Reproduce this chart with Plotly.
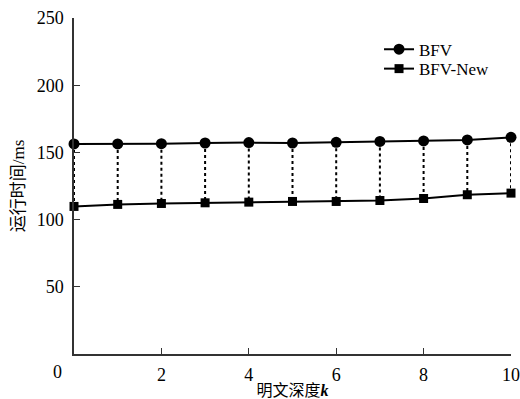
import plotly.graph_objects as go

depth = [0, 1, 2, 3, 4, 5, 6, 7, 8, 9, 10]
bfv = [156.3, 156.3, 156.5, 157.0, 157.3, 157.0, 157.5, 158.2, 158.5, 159.3, 161.2]
bfv_new = [109.8, 111.3, 112.0, 112.5, 113.0, 113.5, 113.5, 114.2, 115.7, 118.5, 119.7]
x_ticks = [0, 2, 4, 6, 8, 10]
y_ticks = [50, 100, 150, 200, 250]

FONT = "'Liberation Serif', 'Noto Sans CJK SC', serif"

# dotted connectors
cx, cy = [], []
for x, a, b in zip(depth, bfv, bfv_new):
    cx += [x, x, None]
    cy += [a, b, None]

fig = go.Figure()
fig.add_trace(go.Scatter(x=cx, y=cy, mode="lines", showlegend=False,
                         line=dict(color="black", width=2, dash="dot"),
                         hoverinfo="skip", cliponaxis=False))
fig.add_trace(go.Scatter(x=depth, y=bfv, mode="lines+markers", name="BFV",
                         line=dict(color="black", width=2),
                         marker=dict(symbol="circle", size=11, color="black"),
                         cliponaxis=False, legend="legend"))
fig.add_trace(go.Scatter(x=depth, y=bfv_new, mode="lines+markers", name="BFV-New",
                         line=dict(color="black", width=2),
                         marker=dict(symbol="square", size=9, color="black"),
                         cliponaxis=False, legend="legend2"))

leg = dict(xanchor="left", yanchor="middle", bgcolor="rgba(0,0,0,0)",
           font=dict(size=17, family=FONT), borderwidth=0)

fig.update_layout(
    width=520, height=399,
    margin=dict(l=74, r=9, t=18, b=45),
    paper_bgcolor="white", plot_bgcolor="white",
    font=dict(family=FONT, size=18, color="black"),
    showlegend=True,
    legend=dict(x=0.698, y=0.906, **leg),
    legend2=dict(x=0.698, y=0.848, **leg),
    xaxis=dict(range=[0, 10], tickvals=x_ticks,
               ticktext=["" if v == 0 else str(v) for v in x_ticks],
               ticks="inside", ticklen=6, tickwidth=1.2, tickcolor="#333",
               ticklabelstandoff=4, automargin=False,
               showline=True, linecolor="#333", linewidth=1.5,
               showgrid=False, zeroline=False,
               title=dict(text="明文深度<b><i>k</i></b>", standoff=4,
                          font=dict(size=16, family=FONT))),
    yaxis=dict(range=[0, 250], tickvals=y_ticks,
               ticks="inside", ticklen=6, tickwidth=1.2, tickcolor="#333",
               ticklabelstandoff=5, automargin=False,
               showline=True, linecolor="#333", linewidth=1.5,
               showgrid=False, zeroline=False,
               title=dict(text="运行时间/ms", standoff=8,
                          font=dict(size=17, family=FONT))),
)
fig.add_annotation(x=0, y=0, xref="x", yref="y", text="0", showarrow=False,
                   xanchor="right", yanchor="top", xshift=-10, yshift=-6,
                   font=dict(size=18, family=FONT))

fig.write_html("out.html")
